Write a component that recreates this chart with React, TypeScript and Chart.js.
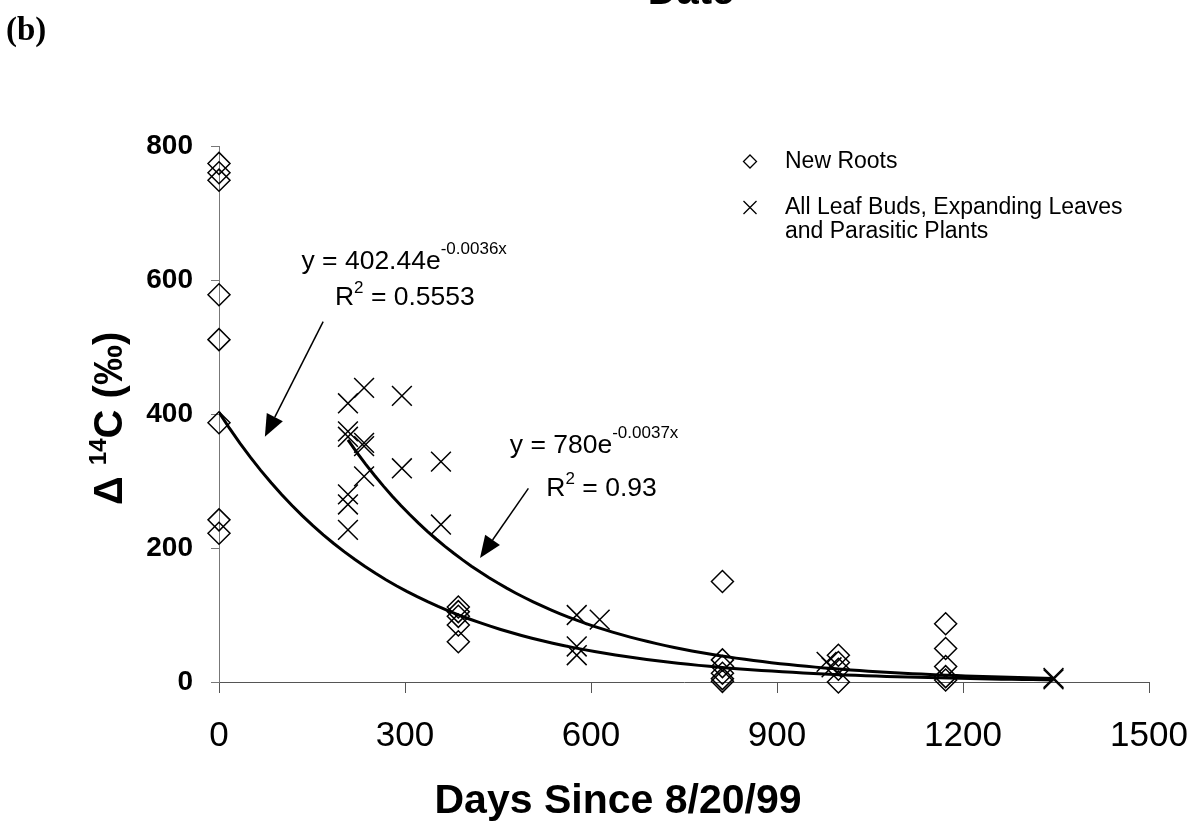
import React, { useEffect, useRef } from 'react';
import { Chart, registerables } from 'chart.js';

Chart.register(...registerables);

// ---------------- data ----------------
const rootDays = [0, 0, 0, 0, 0, 0, 0, 0, 386, 386, 386, 386, 386, 812, 812, 812, 812, 812, 812, 999, 999, 999, 999, 1172, 1172, 1172, 1172, 1172];
const rootValues = [774, 760, 749, 578, 511, 387, 242, 222, 112, 105, 98, 85, 60, 150, 33, 23, 13, 5, 1, 40, 29, 19, 0, 87, 50, 23, 8, 3];

const leafDays = [208, 208, 208, 208, 208, 208, 234, 234, 234, 234, 295, 295, 358, 358, 577, 577, 577, 614, 980, 988, 1346, 1346];
const leafValues = [416, 374, 366, 280, 265, 227, 439, 357, 352, 307, 427, 319, 329, 235, 100, 53, 40, 93, 30, 22, 6, 4];

const seriesLabels = ['New Roots', 'All Leaf Buds, Expanding Leaves\nand Parasitic Plants'];

// exponential trend lines y = a * e^(b x), as printed on the chart
const fitCoef = [402.44, 780];
const fitRate = [-0.0036, -0.0037];
const fitStart = [0, 208];
const fitEnd = [1346, 1346];
const fitEquation = ['y = 402.44e', 'y = 780e'];
const fitExponent = ['-0.0036x', '-0.0037x'];
const fitR2 = [' = 0.5553', ' = 0.93'];

const xTickValues = [0, 300, 600, 900, 1200, 1500];
const yTickValues = [0, 200, 400, 600, 800];
const xTitle = 'Days Since 8/20/99';
const panelLabel = '(b)';
const previousPanelTitle = 'Date';

// ---------------- layout (annotation anchors in data units) ----------------
const eqAnchor = [[133, 617], [469, 342]];
const r2Anchor = [[187, 563], [528, 277]];
const arrowFrom = [[168, 538], [499, 289]];
const arrowTo = [[74, 366], [421, 185]];

const SANS = '"Liberation Sans", Arial, Helvetica, sans-serif';
const SERIF = '"Liberation Serif", "Times New Roman", serif';

function fitPoints(i: number) {
  const pts: { x: number; y: number }[] = [];
  const n = 80;
  for (let k = 0; k <= n; k++) {
    const x = fitStart[i] + ((fitEnd[i] - fitStart[i]) * k) / n;
    pts.push({ x, y: fitCoef[i] * Math.exp(fitRate[i] * x) });
  }
  return pts;
}

function drawDiamond(ctx: CanvasRenderingContext2D, x: number, y: number, r: number) {
  ctx.beginPath();
  ctx.moveTo(x, y - r);
  ctx.lineTo(x + r, y);
  ctx.lineTo(x, y + r);
  ctx.lineTo(x - r, y);
  ctx.closePath();
  ctx.stroke();
}

function drawX(ctx: CanvasRenderingContext2D, x: number, y: number, r: number) {
  ctx.beginPath();
  ctx.moveTo(x - r, y - r);
  ctx.lineTo(x + r, y + r);
  ctx.moveTo(x + r, y - r);
  ctx.lineTo(x - r, y + r);
  ctx.stroke();
}

function drawSupText(ctx: CanvasRenderingContext2D, x: number, y: number, main: string, sup: string, rest: string, mainSize: number, supSize: number, raise: number) {
  ctx.font = `${mainSize}px ${SANS}`;
  ctx.fillText(main, x, y);
  let cx = x + ctx.measureText(main).width;
  ctx.font = `${supSize}px ${SANS}`;
  ctx.fillText(sup, cx, y - raise);
  cx += ctx.measureText(sup).width;
  if (rest) {
    ctx.font = `${mainSize}px ${SANS}`;
    ctx.fillText(rest, cx, y);
  }
}

const overlayPlugin = {
  id: 'overlay',
  afterDraw(chart: any) {
    const ctx: CanvasRenderingContext2D = chart.ctx;
    const xs = chart.scales.x;
    const ys = chart.scales.y;
    const px = (v: number) => xs.getPixelForValue(v);
    const py = (v: number) => ys.getPixelForValue(v);
    const area = chart.chartArea;
    ctx.save();
    ctx.fillStyle = '#000';
    ctx.strokeStyle = '#000';
    ctx.textBaseline = 'alphabetic';
    ctx.textAlign = 'left';

    // equations
    for (let i = 0; i < 2; i++) {
      drawSupText(ctx, px(eqAnchor[i][0]), py(eqAnchor[i][1]), fitEquation[i], fitExponent[i], '', 26.5, 17, 15);
      drawSupText(ctx, px(r2Anchor[i][0]), py(r2Anchor[i][1]), 'R', '2', fitR2[i], 26.5, 17, 12);
    }

    // arrows
    ctx.lineWidth = 1.5;
    for (let i = 0; i < 2; i++) {
      const x1 = px(arrowFrom[i][0]);
      const y1 = py(arrowFrom[i][1]);
      const x2 = px(arrowTo[i][0]);
      const y2 = py(arrowTo[i][1]);
      const dx = x2 - x1;
      const dy = y2 - y1;
      const len = Math.hypot(dx, dy);
      const ux = dx / len;
      const uy = dy / len;
      const hl = 22;
      const hw = 9;
      const bx = x2 - ux * hl;
      const by = y2 - uy * hl;
      ctx.beginPath();
      ctx.moveTo(x1, y1);
      ctx.lineTo(bx, by);
      ctx.stroke();
      ctx.beginPath();
      ctx.moveTo(x2, y2);
      ctx.lineTo(bx - uy * hw, by + ux * hw);
      ctx.lineTo(bx + uy * hw, by - ux * hw);
      ctx.closePath();
      ctx.fill();
    }

    // legend
    const lx = area.left + 531;
    const ly = area.top + 15.5;
    ctx.lineWidth = 1.3;
    drawDiamond(ctx, lx, ly, 6.5);
    drawX(ctx, lx, ly + 46, 6.5);
    ctx.font = `23px ${SANS}`;
    ctx.textBaseline = 'middle';
    const lines0 = seriesLabels[0].split('\n');
    const lines1 = seriesLabels[1].split('\n');
    lines0.forEach((t, k) => ctx.fillText(t, lx + 35, ly + k * 24));
    lines1.forEach((t, k) => ctx.fillText(t, lx + 35, ly + 46 + k * 24));

    // x title
    ctx.font = `bold 41px ${SANS}`;
    ctx.textAlign = 'center';
    ctx.textBaseline = 'alphabetic';
    ctx.fillText(xTitle, area.left + 399, area.bottom + 131);

    // y title (rotated): Δ ¹⁴C (‰)
    ctx.save();
    ctx.translate(area.left - 97, (area.top + area.bottom) / 2 + 91);
    ctx.rotate(-Math.PI / 2);
    ctx.textAlign = 'left';
    let cx = 0;
    ctx.font = `bold 40px ${SANS}`;
    ctx.fillText('\u0394 ', cx, 0);
    cx += ctx.measureText('\u0394 ').width;
    ctx.font = `bold 24px ${SANS}`;
    ctx.fillText('14', cx, -16);
    cx += ctx.measureText('14').width;
    ctx.font = `bold 40px ${SANS}`;
    ctx.fillText('C (\u2030)', cx, 0);
    ctx.restore();

    // panel label and cut-off title of previous panel
    ctx.textAlign = 'left';
    ctx.font = `bold 33px ${SERIF}`;
    ctx.fillText(panelLabel, 6, 40);
    ctx.font = `bold 40px ${SANS}`;
    ctx.textAlign = 'center';
    ctx.fillText(previousPanelTitle, 691, 4);

    ctx.restore();
  },
};

export default function App() {
  const canvasRef = useRef<HTMLCanvasElement | null>(null);

  useEffect(() => {
    const canvas = canvasRef.current;
    if (!canvas) return;
    const chart = new Chart(canvas, {
      type: 'scatter',
      data: {
        datasets: [
          {
            type: 'line',
            label: 'fit1',
            data: fitPoints(0),
            borderColor: '#000',
            borderWidth: 3,
            pointRadius: 0,
            tension: 0,
            fill: false,
            order: 0,
          },
          {
            type: 'line',
            label: 'fit2',
            data: fitPoints(1),
            borderColor: '#000',
            borderWidth: 3,
            pointRadius: 0,
            tension: 0,
            fill: false,
            order: 0,
          },
          {
            label: seriesLabels[0],
            data: rootDays.map((d, i) => ({ x: d, y: rootValues[i] })),
            pointStyle: 'rectRot',
            pointRadius: 11,
            pointBorderWidth: 1.5,
            pointBorderColor: '#000',
            pointBackgroundColor: 'rgba(0,0,0,0)',
            clip: false,
            order: 1,
          },
          {
            label: seriesLabels[1],
            data: leafDays.map((d, i) => ({ x: d, y: leafValues[i] })),
            pointStyle: 'crossRot',
            pointRadius: 14,
            pointBorderWidth: 1.5,
            pointBorderColor: '#000',
            pointBackgroundColor: 'rgba(0,0,0,0)',
            clip: false,
            order: 1,
          },
        ],
      },
      options: {
        animation: false,
        responsive: false,
        devicePixelRatio: 1,
        layout: { padding: { left: 0, right: 48, top: 146, bottom: 0 } },
        plugins: {
          legend: { display: false },
          tooltip: { enabled: false },
        },
        scales: {
          x: {
            type: 'linear',
            min: 0,
            max: 1500,
            afterBuildTicks: (s: any) => {
              s.ticks = xTickValues.map((v) => ({ value: v }));
            },
            afterFit: (s: any) => {
              s.height = 143;
              s.paddingLeft = 0;
              s.paddingRight = 0;
            },
            grid: { drawOnChartArea: false, drawTicks: true, tickLength: 11, color: '#555', lineWidth: 1 },
            border: { display: true, color: '#555', width: 1 },
            ticks: {
              color: '#000',
              padding: 22,
              font: { family: SANS, size: 35 },
              callback: (v: any) => String(v),
              maxRotation: 0,
            },
          },
          y: {
            type: 'linear',
            min: 0,
            max: 800,
            afterBuildTicks: (s: any) => {
              s.ticks = yTickValues.map((v) => ({ value: v }));
            },
            afterFit: (s: any) => {
              s.width = 219;
              s.paddingTop = 0;
              s.paddingBottom = 0;
            },
            grid: { drawOnChartArea: false, drawTicks: true, tickLength: 8, color: '#777', lineWidth: 1 },
            border: { display: true, color: '#777', width: 1 },
            ticks: {
              color: '#000',
              padding: 18,
              font: { family: SANS, size: 28, weight: 'bold' },
              callback: (v: any) => String(v),
            },
          },
        },
      },
      plugins: [overlayPlugin],
    } as any);
    return () => chart.destroy();
  }, []);

  return (
    <div style={{ position: 'absolute', left: 0, top: 0, width: 1197, height: 825, background: '#fff' }}>
      <canvas ref={canvasRef} width={1197} height={825} style={{ display: 'block' }} />
    </div>
  );
}
